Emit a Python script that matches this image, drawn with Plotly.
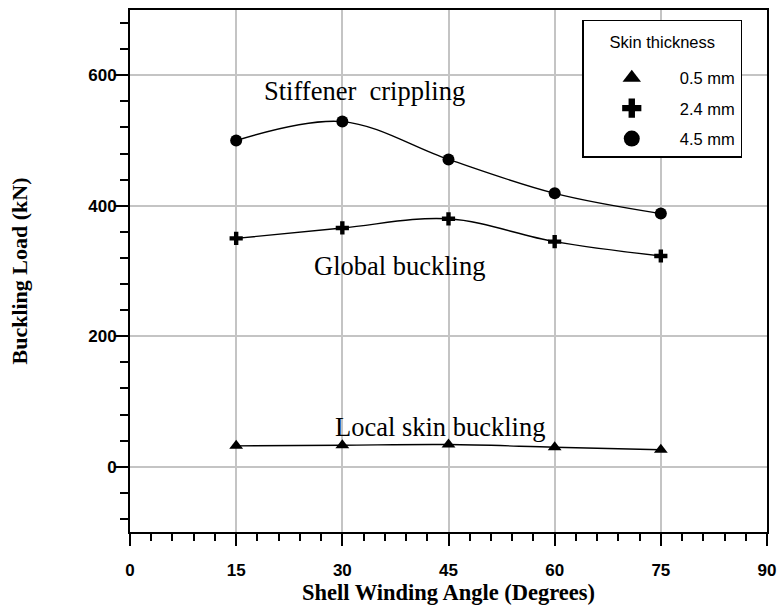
import plotly.graph_objects as go

angles = [15, 30, 45, 60, 75]
load_05mm = [32, 33, 34, 30, 26]
load_24mm = [350, 366, 380, 345, 323]
load_45mm = [500, 529, 471, 419, 388]

series_names = ["0.5 mm", "2.4 mm", "4.5 mm"]
series_values = [load_05mm, load_24mm, load_45mm]
series_symbols = ["triangle-up", "cross", "circle"]
series_sizes = [12, 11, 12]

labels = ["Stiffener\u00a0 crippling", "Global buckling", "Local skin buckling"]
label_x = [33.1, 38.1, 43.8]
label_y = [576, 307, 61]

fig = go.Figure()

for name, vals, sym, sz in zip(series_names, series_values, series_symbols, series_sizes):
    fig.add_trace(go.Scatter(
        x=angles, y=vals, mode="lines+markers",
        line=dict(color="black", width=1.4, shape="spline"),
        marker=dict(symbol=sym, size=sz, color="black"),
        showlegend=False, name=name,
    ))

for name, sym in zip(series_names, series_symbols):
    fig.add_trace(go.Scatter(
        x=[None], y=[None], mode="markers", name=name, legendgroup=name,
        marker=dict(symbol=sym, size=16, color="black"),
    ))

for t, xv, yv in zip(labels, label_x, label_y):
    fig.add_annotation(x=xv, y=yv, text=t, showarrow=False,
                       font=dict(family="Liberation Serif", size=26.5, color="black"))

tickfont = dict(family="Liberation Sans", size=17, color="black", weight="bold")

fig.update_xaxes(
    range=[0, 90], tick0=0, dtick=15, ticks="outside", ticklen=12, tickwidth=2,
    tickcolor="black", showline=True, linewidth=2, linecolor="black", mirror=True,
    showgrid=True, gridcolor="#c4c4c4", gridwidth=1.5, zeroline=False,
    tickfont=tickfont, ticklabelstandoff=10,
    minor=dict(dtick=3, ticks="outside", ticklen=7, tickwidth=2, tickcolor="black", showgrid=False),
    title=dict(text="Shell Winding Angle (Degrees)",
               font=dict(family="Liberation Serif", size=22.5, color="black", weight="bold"),
               standoff=0),
)
fig.update_yaxes(
    range=[-100, 700], tick0=0, dtick=200, ticks="outside", ticklen=13, tickwidth=2,
    tickcolor="black", showline=True, linewidth=2, linecolor="black", mirror=True,
    showgrid=True, gridcolor="#c4c4c4", gridwidth=1.5, zeroline=False,
    tickfont=tickfont, ticklabelstandoff=-5,
    minor=dict(dtick=40, ticks="outside", ticklen=8, tickwidth=2, tickcolor="black", showgrid=False),
    title=dict(text="Buckling Load (kN)",
               font=dict(family="Liberation Serif", size=22, color="black", weight="bold"),
               standoff=55),
)

fig.update_layout(
    width=780, height=607,
    margin=dict(l=130, r=13, t=10, b=75, autoexpand=False),
    plot_bgcolor="white", paper_bgcolor="white",
    legend=dict(
        x=0.71, y=0.981, xanchor="left", yanchor="top",
        bordercolor="black", borderwidth=1.5, bgcolor="white",
        font=dict(family="Liberation Sans", size=16.5, color="black"),
        title=dict(text="<span style='font-size:16.5px;baseline-shift:12px'>Skin thickness</span>",
                   side="top center",
                   font=dict(family="Liberation Sans", size=30, color="black")),
        itemwidth=86, traceorder="grouped", tracegroupgap=6, entrywidth=59,
    ),
)

fig.write_html("out.html", config={"displayModeBar": False},
               post_script="document.body.style.margin='0px';document.documentElement.style.overflow='hidden';")
